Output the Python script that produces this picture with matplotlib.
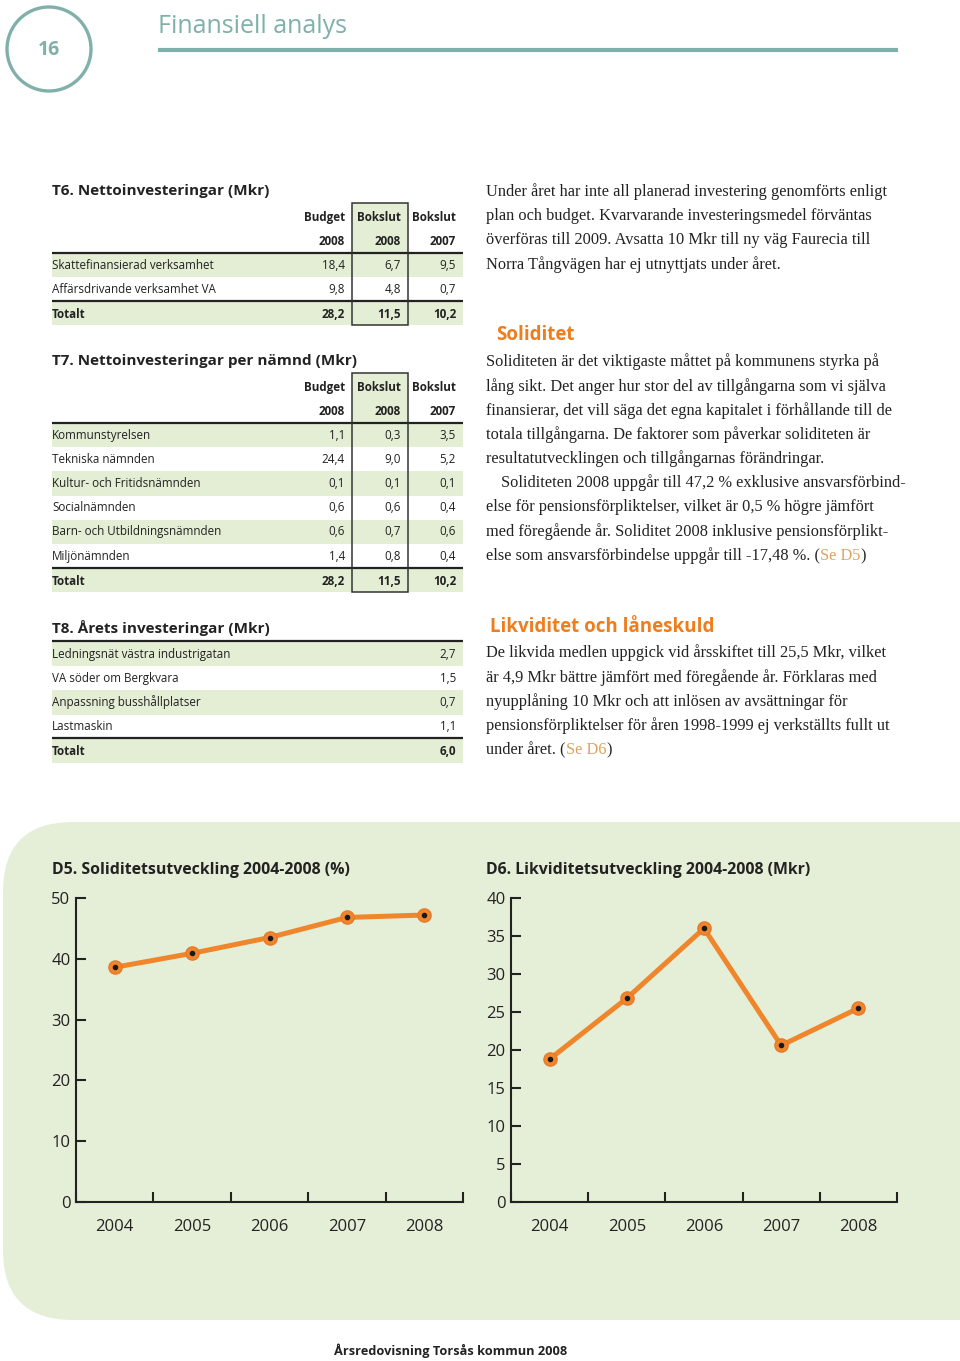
import matplotlib
matplotlib.use("Agg")
import matplotlib.pyplot as plt
from matplotlib import font_manager
from matplotlib.patches import FancyBboxPatch, Circle, Rectangle

# ---- data ----
t6_rows = ["Skattefinansierad verksamhet", "Affärsdrivande verksamhet VA"]
t6_budget08 = [18.4, 9.8]
t6_bokslut08 = [6.7, 4.8]
t6_bokslut07 = [9.5, 0.7]
t6_total = [28.2, 11.5, 10.2]

t7_rows = ["Kommunstyrelsen", "Tekniska nämnden", "Kultur- och Fritidsnämnden",
           "Socialnämnden", "Barn- och Utbildningsnämnden", "Miljönämnden"]
t7_budget08 = [1.1, 24.4, 0.1, 0.6, 0.6, 1.4]
t7_bokslut08 = [0.3, 9.0, 0.1, 0.6, 0.7, 0.8]
t7_bokslut07 = [3.5, 5.2, 0.1, 0.4, 0.6, 0.4]
t7_total = [28.2, 11.5, 10.2]

col_head1 = ["Budget", "Bokslut", "Bokslut"]
col_head2 = ["2008", "2008", "2007"]

t8_rows = ["Ledningsnät västra industrigatan", "VA söder om Bergkvara",
           "Anpassning busshållplatser", "Lastmaskin"]
t8_values = [2.7, 1.5, 0.7, 1.1]
t8_total = 6.0

years = ["2004", "2005", "2006", "2007", "2008"]
soliditet = [38.6, 40.9, 43.5, 46.8, 47.2]
likviditet = [18.8, 26.8, 36.0, 20.6, 25.5]

text_invest = [
    "Under året har inte all planerad investering genomförts enligt",
    "plan och budget. Kvarvarande investeringsmedel förväntas",
    "överföras till 2009. Avsatta 10 Mkr till ny väg Faurecia till",
    "Norra Tångvägen har ej utnyttjats under året.",
]
text_solid = [
    "Soliditeten är det viktigaste måttet på kommunens styrka på",
    "lång sikt. Det anger hur stor del av tillgångarna som vi själva",
    "finansierar, det vill säga det egna kapitalet i förhållande till de",
    "totala tillgångarna. De faktorer som påverkar soliditeten är",
    "resultatutvecklingen och tillgångarnas förändringar.",
    "Soliditeten 2008 uppgår till 47,2 % exklusive ansvarsförbind-",
    "else för pensionsförpliktelser, vilket är 0,5 % högre jämfört",
    "med föregående år. Soliditet 2008 inklusive pensionsförplikt-",
    "else som ansvarsförbindelse uppgår till -17,48 %. (",
]
text_likv = [
    "De likvida medlen uppgick vid årsskiftet till 25,5 Mkr, vilket",
    "är 4,9 Mkr bättre jämfört med föregående år. Förklaras med",
    "nyupplåning 10 Mkr och att inlösen av avsättningar för",
    "pensionsförpliktelser för åren 1998-1999 ej verkställts fullt ut",
    "under året. (",
]

# ---- style ----
installed = {f.name for f in font_manager.fontManager.ttflist}
SANS = "Open Sans" if "Open Sans" in installed else "DejaVu Sans"
SERIF = "Liberation Serif"
TEAL = "#7fb0aa"
ORANGE = "#ef862c"
HEAD_OR = "#ee7d1e"
LINK = "#dfa25c"
GREEN = "#e3eed4"
PANEL = "#e5efd7"
DARK = "#222222"

plt.rcParams["font.family"] = SANS


def fmt(v):
    return f"{v:.1f}".replace(".", ",")


fig = plt.figure(figsize=(9.6, 13.61), dpi=100)
bg = fig.add_axes([0, 0, 1, 1], zorder=0)
bg.set_xlim(0, 960)
bg.set_ylim(1361, 0)
bg.axis("off")

# header
bg.add_patch(Circle((49, 49), 42, fill=False, ec=TEAL, lw=2.4))
bg.text(49, 50, "16", color=TEAL, fontsize=14, fontweight="bold", ha="center", va="center")
bg.text(158, 26, "Finansiell analys", color=TEAL, fontsize=18,
        ha="left", va="center")
bg.plot([158, 898], [50, 50], color=TEAL, lw=3, solid_capstyle="butt")

# tables
X0, X1 = 52, 463
col_right = [345, 401, 456]
box_x = (352, 408)
RH = 24.2
FS = 8.4


def band(y0, y1):
    bg.add_patch(Rectangle((X0, y0), X1 - X0, y1 - y0, fc=GREEN, ec="none", zorder=1))


def hline(y):
    bg.plot([X0, X1], [y, y], color=DARK, lw=1.6, zorder=3, solid_capstyle="butt")


def table3(title, ty, rows, c1, c2, c3, total):
    bg.text(X0, ty, title, fontsize=11, fontweight="bold", color=DARK, va="center")
    box_top = ty + 12
    line1 = ty + 62
    ys = [ty + 74 + i * RH for i in range(len(rows))]
    line2 = ys[-1] + 12
    ytot = line2 + 13
    box_bot = ytot + 11
    # header band in highlighted column
    bg.add_patch(Rectangle((box_x[0], box_top), box_x[1] - box_x[0], line1 - box_top,
                           fc=GREEN, ec="none", zorder=1))
    for i, y in enumerate(ys):
        if i % 2 == 0:
            band(y - RH / 2, y + RH / 2)
    band(line2, box_bot)
    for j in range(3):
        bg.text(col_right[j], ty + 26, col_head1[j], fontsize=FS, fontweight="bold",
                ha="right", va="center", color=DARK, zorder=4)
        bg.text(col_right[j], ty + 50, col_head2[j], fontsize=FS, fontweight="bold",
                ha="right", va="center", color=DARK, zorder=4)
    for i, y in enumerate(ys):
        bg.text(X0, y, rows[i], fontsize=FS, va="center", color=DARK, zorder=4)
        for j, col in enumerate((c1, c2, c3)):
            bg.text(col_right[j], y, fmt(col[i]), fontsize=FS, ha="right", va="center",
                    color=DARK, zorder=4)
    bg.text(X0, ytot, "Totalt", fontsize=FS, fontweight="bold", va="center", color=DARK, zorder=4)
    for j in range(3):
        bg.text(col_right[j], ytot, fmt(total[j]), fontsize=FS, fontweight="bold",
                ha="right", va="center", color=DARK, zorder=4)
    hline(line1)
    hline(line2)
    bg.add_patch(Rectangle((box_x[0], box_top), box_x[1] - box_x[0], box_bot - box_top,
                           fill=False, ec="#333333", lw=1.1, zorder=5))


table3("T6. Nettoinvesteringar (Mkr)", 191, t6_rows, t6_budget08, t6_bokslut08,
       t6_bokslut07, t6_total)
table3("T7. Nettoinvesteringar per nämnd (Mkr)", 361, t7_rows, t7_budget08, t7_bokslut08,
       t7_bokslut07, t7_total)

# T8
ty = 628
bg.text(X0, ty, "T8. Årets investeringar (Mkr)", fontsize=11, fontweight="bold",
        color=DARK, va="center")
ys = [ty + 26 + i * RH for i in range(len(t8_rows))]
for i, y in enumerate(ys):
    if i % 2 == 0:
        band(y - RH / 2, y + RH / 2)
    bg.text(X0, y, t8_rows[i], fontsize=FS, va="center", color=DARK, zorder=4)
    bg.text(col_right[2], y, fmt(t8_values[i]), fontsize=FS, ha="right", va="center",
            color=DARK, zorder=4)
l2 = ys[-1] + 11
band(l2, l2 + 25)
bg.text(X0, l2 + 14, "Totalt", fontsize=FS, fontweight="bold", va="center", color=DARK, zorder=4)
bg.text(col_right[2], l2 + 14, fmt(t8_total), fontsize=FS, fontweight="bold", ha="right",
        va="center", color=DARK, zorder=4)
hline(ty + 13)
hline(l2)

# right column text
TX = 486
BFS = 11.8


def para(lines, y0, indent_idx=None):
    last = None
    for i, ln in enumerate(lines):
        x = TX + (15 if i == indent_idx else 0)
        last = bg.text(x, y0 + i * 24.2, ln, family=SERIF, fontsize=BFS, color=DARK,
                       va="center")
    return last


para(text_invest, 192)
bg.text(496, 335, "Soliditet", fontsize=13.5, fontweight="bold", color=HEAD_OR, va="center")
t = para(text_solid, 362, indent_idx=5)
a = bg.annotate("Se D5", xy=(1, 0), xycoords=t, va="bottom", ha="left",
                family=SERIF, fontsize=BFS, color=LINK)
bg.annotate(")", xy=(1, 0), xycoords=a, va="bottom", ha="left",
            family=SERIF, fontsize=BFS, color=DARK)

bg.text(490, 627, "Likviditet och låneskuld", fontsize=13.5, fontweight="bold",
        color=HEAD_OR, va="center")
t = para(text_likv, 653)
a = bg.annotate("Se D6", xy=(1, 0), xycoords=t, va="bottom", ha="left",
                family=SERIF, fontsize=BFS, color=LINK)
bg.annotate(")", xy=(1, 0), xycoords=a, va="bottom", ha="left",
            family=SERIF, fontsize=BFS, color=DARK)

# green panel
bg.add_patch(FancyBboxPatch((3, 822), 1100, 498, boxstyle="round,pad=0,rounding_size=70",
                            fc=PANEL, ec="none", zorder=0.5))
bg.text(52, 870, "D5. Soliditetsutveckling 2004-2008 (%)", fontsize=11.4,
        fontweight="bold", color=DARK, va="center")
bg.text(486, 870, "D6. Likviditetsutveckling 2004-2008 (Mkr)", fontsize=11.4,
        fontweight="bold", color=DARK, va="center")

# footer
bg.text(451, 1351, "Årsredovisning Torsås kommun 2008", fontsize=9.2, fontweight="bold",
        color=DARK, ha="center", va="center")


def chart(rect_px, values, ymax, ystep):
    l, r, t_, b = rect_px
    ax = fig.add_axes([l / 960, 1 - b / 1361, (r - l) / 960, (b - t_) / 1361], zorder=2)
    ax.patch.set_alpha(0)
    xs = [i + 0.5 for i in range(len(values))]
    ax.plot(xs, values, color=ORANGE, lw=3.6, marker="o", ms=9.5, mfc=ORANGE,
            mec="#e9792a", solid_capstyle="round", zorder=3)
    ax.scatter(xs, values, s=9, color="#1a1a1a", zorder=4)
    ax.set_xlim(0, len(values))
    ax.set_ylim(0, ymax)
    ax.set_yticks(range(0, ymax + 1, ystep))
    ax.set_xticks(range(0, len(values) + 1))
    ax.set_xticklabels([])
    ax.set_xticks(xs, minor=True)
    ax.set_xticklabels(years, minor=True)
    ax.tick_params(axis="both", which="major", direction="in", length=7.5, width=1.5,
                   colors=DARK, labelsize=12, pad=4)
    ax.tick_params(axis="x", which="minor", length=0, pad=12, labelsize=12, colors=DARK)
    for s in ("top", "right"):
        ax.spines[s].set_visible(False)
    for s in ("left", "bottom"):
        ax.spines[s].set_linewidth(1.5)
        ax.spines[s].set_color(DARK)
    for art in ax.lines + ax.collections:
        art.set_clip_on(False)
    return ax


chart((76, 463, 898, 1202), soliditet, 50, 10)
chart((511, 897, 898, 1202), likviditet, 40, 5)

fig.savefig("out.png", dpi=100)
